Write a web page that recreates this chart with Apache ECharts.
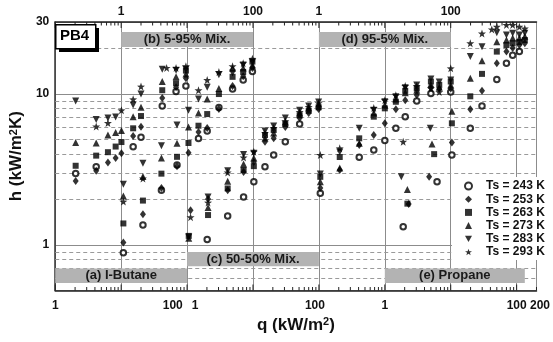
<!DOCTYPE html>
<html><head><meta charset="utf-8">
<script src="https://cdn.jsdelivr.net/npm/echarts@6/dist/echarts.min.js"></script>
<style>html,body{margin:0;padding:0;background:#fff}#c{width:553px;height:342px}</style>
</head><body><div id="c"></div>
<script>
// ---- data: [q (kW/m2), h (kW/m2K)] per panel and surface temperature ----
// (a) I-Butane
const a243 = [[2.04,2.98],[4.18,3.30],[10.8,0.89],[21.4,1.36],[40.8,2.31],[70.4,3.39]];
const a253 = [[2.04,2.66],[4.18,3.10],[6.3,3.52],[8.25,3.77],[10.1,4.05],[10.8,1.04],[21.4,1.60],[40.8,2.39],[70.4,3.33],[105,4.08]];
const a263 = [[2.04,3.35],[4.18,3.91],[6.3,4.12],[8.25,4.49],[10.1,4.81],[10.8,1.39],[21.4,1.97],[40.8,2.97],[70.4,3.84],[105,4.74]];
const a273 = [[2.04,4.77],[4.18,4.74],[6.3,5.35],[8.25,5.56],[10.1,5.73],[10.8,2.11],[21.4,2.84],[40.8,3.77],[70.4,4.72],[105,6.05]];
const a283 = [[2.04,9.0],[4.18,6.78],[6.3,6.93],[8.25,7.05],[10.8,2.53],[21.4,3.48],[40.8,4.55],[70.4,6.23],[105,7.8]];
const a293 = [[4.18,6.09],[6.3,6.43],[10.1,7.8],[10.8,1.94],[21.4,2.76]];
// (b) 5-95% Mix.
const b243 = [[1.52,4.48],[2.0,5.17],[4.2,8.33],[6.8,10.4],[9.6,11.3],[14.9,5.07],[20.2,5.7],[30.4,8.14],[49,10.8],[71,12.4],[98,14.1]];
const b253 = [[1.52,5.27],[2.0,6.07],[4.2,9.41],[6.8,11.1],[9.6,12.7],[14.9,5.6],[20.2,5.95],[30.4,7.96],[49,11.3],[71,13.1],[98,14.9]];
const b263 = [[1.52,5.93],[2.0,7.15],[4.2,10.6],[6.8,11.8],[9.6,14.3],[14.9,6.17],[20.2,7.37],[30.4,10.0],[49,13.0],[71,14.0],[98,16.4]];
const b273 = [[1.52,7.08],[2.0,8.17],[4.2,12.1],[6.8,13.0],[9.6,13.6],[14.9,7.5],[20.2,9.27],[30.4,10.9],[49,14.8],[71,14.9],[98,15.6]];
const b283 = [[1.52,8.45],[2.0,10.0],[4.2,14.6],[6.8,14.4],[9.6,14.6],[14.9,9.27],[20.2,11.1],[30.4,13.4],[49,13.8],[71,15.6],[98,16.3]];
const b293 = [[1.52,9.22],[2.0,11.2],[4.9,14.9],[6.8,14.9],[9.6,15.3],[14.9,10.6],[20.2,12.4],[30.4,14.0],[49,15.3],[71,16.0],[98,17.1]];
// (c) 50-50% Mix.
const c243 = [[2.02,1.09],[4.13,1.56],[7.2,2.08],[10.3,2.63],[15.2,3.30],[20.6,3.95],[30.9,4.83],[51,6.33]];
const c253 = [[1.13,1.70],[2.08,2.02],[4.13,2.31],[7.2,3.05],[10.3,3.55],[15.2,4.83],[20.6,5.09],[30.9,6.05],[51,6.93],[70,7.5],[99,7.96]];
const c263 = [[1.06,1.15],[2.08,1.58],[4.13,2.37],[7.2,3.14],[10.3,3.33],[15.2,5.35],[20.6,5.78],[30.9,6.33],[51,7.24],[70,7.75],[99,8.17]];
const c273 = [[1.06,1.11],[2.08,1.77],[4.13,2.65],[7.2,3.44],[10.3,3.77],[15.2,5.11],[20.6,5.53],[30.9,6.52],[51,7.5],[70,8.07],[99,8.6]];
const c283 = [[1.06,1.13],[2.08,2.08],[4.13,3.11],[7.2,3.98],[10.3,4.06],[15.2,5.69],[20.6,6.14],[30.9,6.93],[51,7.8],[70,8.33],[99,8.85]];
const c293 = [[1.13,1.53],[2.08,1.91],[4.13,3.02],[7.2,3.8],[10.3,4.15],[15.2,5.53],[20.6,5.95],[30.9,6.62],[51,7.6],[70,8.2],[99,8.7]];
// (d) 95-5% Mix.
const d243 = [[1.05,2.2],[4.09,3.81],[6.8,4.26],[10.0,4.92],[14.7,5.93],[20.4,7.08],[30.5,9.0],[50,10.1],[100,10.3]];
const d253 = [[1.05,2.39],[2.07,3.14],[4.09,4.6],[6.8,5.35],[10.0,6.4],[14.7,7.92],[20.4,9.1],[30.5,9.85],[50,11.0],[67,10.8],[100,10.9]];
const d263 = [[1.05,2.83],[2.07,3.83],[4.09,5.09],[6.8,7.08],[10.0,8.04],[14.7,8.89],[20.4,10.5],[30.5,10.9],[50,12.1],[67,11.5],[100,12.1]];
const d273 = [[1.05,2.63],[2.07,3.24],[4.09,4.72],[6.8,7.5],[10.0,8.45],[14.7,9.27],[20.4,10.2],[30.5,10.6],[50,11.6],[67,11.1],[100,11.5]];
const d283 = [[1.05,2.95],[2.07,4.13],[4.09,5.93],[6.8,7.8],[10.0,8.89],[14.7,9.6],[20.4,11.0],[30.5,11.5],[50,12.6],[67,12.0],[100,12.4]];
const d293 = [[1.05,3.95],[2.07,4.37],[6.8,8.07],[10.0,9.1],[14.7,9.8],[20.4,11.3],[30.5,11.3],[50,10.9],[67,10.3],[100,14.8]];
// (e) Propane
const e243 = [[1.9,1.32],[6.2,2.63],[10.4,3.95],[19.8,5.93],[29.8,8.33],[50,12.5],[70,16.0],[87,18.1],[110,19.1]];
const e253 = [[2.3,1.87],[4.7,2.83],[10.4,4.77],[19.8,7.92],[29.8,10.5],[50,16.0],[70,19.1],[87,20.2],[110,21.1],[133,21.7]];
const e263 = [[2.2,1.88],[5.6,4.0],[10.4,6.4],[19.8,9.66],[29.8,13.6],[50,19.1],[70,21.1],[87,21.7],[110,22.1],[133,22.8]];
const e273 = [[2.2,2.33],[5.2,4.67],[10.4,7.7],[19.8,12.7],[29.8,16.6],[50,22.2],[70,22.8],[87,23.5],[110,23.5],[133,24.1]];
const e283 = [[1.78,2.83],[4.9,5.93],[19.8,17.7],[29.8,20.6],[50,25.5],[70,24.6],[87,25.3],[110,24.6],[133,25.3]];
const e293 = [[1.9,4.83],[19.8,21.7],[29.8,25.2],[42,26.8],[50,27.9],[70,28.7],[87,28.7],[110,27.9],[133,27.2]];

const seriesNames = ['Ts = 243 K','Ts = 253 K','Ts = 263 K','Ts = 273 K','Ts = 283 K','Ts = 293 K'];
const dashedLevels = [0.6,0.7,0.8,0.9,2,3,4,5,6,7,8,9,20];
const boxLabels = ['(a) I-Butane','(b) 5-95% Mix.','(c) 50-50% Mix.','(d) 95-5% Mix.','(e) Propane'];
const boxPanels = ['a','b','c','d','e'];
const boxQ = [[1,100],[1,100],[1,100],[1,100],[1,133]];
const boxH = [[0.56,0.70],[20.5,25.8],[0.725,0.9],[20.5,25.8],[0.56,0.70]];

// each panel's q axis is shifted by whole decades on the shared log axis
const PANEL_SHIFT = {a:1, b:10, c:100, d:1e4, e:1e5};
const shift = (arr, p) => arr.map(([q,h]) => [q*PANEL_SHIFT[p], h]);
const byTemp = [
  [a243,b243,c243,d243,e243],[a253,b253,c253,d253,e253],[a263,b263,c263,d263,e263],
  [a273,b273,c273,d273,e273],[a283,b283,c283,d283,e283],[a293,b293,c293,d293,e293]
];
const panelKeys = ['a','b','c','d','e'];
const STAR = 'path://M0,-10L2.35,-3.24L9.51,-3.09L3.8,1.24L5.88,8.09L0,4L-5.88,8.09L-3.8,1.24L-9.51,-3.09L-2.35,-3.24Z';
const TRI_DOWN = 'path://M0,0L10,0L5,9Z';
const symbols = ['emptyCircle','diamond','rect','triangle',TRI_DOWN,STAR];
const sizes = [5.5,[6,8],6,7,7,8];

const XMAX = 2e7, YMIN = 0.5, YMAX = 30;
const tickVals = [];
for (let k=0;k<=7;k++) for (let m=1;m<=9;m++){ const v=m*Math.pow(10,k); if (v<=XMAX*1.0001) tickVals.push([v, m===1?1:0]); }

const FONT = '"Liberation Sans", Arial, sans-serif';
const lg = v => Math.round(Math.log10(v)*100)/100;
const lblRich = pad => ({fontSize:12, fontWeight:'bold', color:'#111', fontFamily:FONT, padding:pad});

const series = seriesNames.map((name,i)=>({
  name, type:'scatter', z:5,
  symbol: symbols[i], symbolSize: sizes[i],
  itemStyle: i===0 ? {color:'#000', borderColor:'#000', borderWidth:1.6} : {color:'#000'},
  data: byTemp[i].reduce((acc,arr,j)=>acc.concat(shift(arr,panelKeys[j])), [])
}));

series.push({
  name:'grid', type:'scatter', data:[], z:1, silent:true,
  markLine:{ silent:true, z:1, symbol:'none', label:{show:false}, animation:false,
    lineStyle:{type:[4,3], color:'#9a9a9a', width:1},
    data: dashedLevels.map(v=>({yAxis:v})) }
});
series.push({
  name:'boxes', type:'scatter', data:[], z:2, silent:true,
  markArea:{ silent:true, z:2, animation:false,
    itemStyle:{color:'#b3b3b3', opacity:1},
    label:{show:true, position:'inside', color:'#1a1a1a', fontWeight:'bold', fontSize:13, fontFamily:FONT},
    data: boxLabels.map((nm,i)=>[
      {name:nm, xAxis:boxQ[i][0]*PANEL_SHIFT[boxPanels[i]], yAxis:boxH[i][0]},
      {xAxis:boxQ[i][1]*PANEL_SHIFT[boxPanels[i]], yAxis:boxH[i][1]}
    ]) }
});
series.push({
  name:'ticks', type:'custom', z:6, silent:true, data: tickVals,
  encode:{x:0},
  renderItem:(params, api)=>{
    const v = api.value(0), major = api.value(1)===1;
    const b = api.coord([v, YMIN]), t = api.coord([v, YMAX]);
    const len = major ? 6 : 3.5;
    const ch = [{type:'line', shape:{x1:b[0],y1:b[1],x2:b[0],y2:b[1]-len}, style:{stroke:'#222', lineWidth:1}}];
    if (v <= 1.5e7) ch.push({type:'line', shape:{x1:t[0],y1:t[1],x2:t[0],y2:t[1]+len}, style:{stroke:'#222', lineWidth:1}});
    return {type:'group', children:ch};
  }
});

const chart = echarts.init(document.getElementById('c'), null, {renderer:'canvas'});
chart.setOption({
  animation:false,
  backgroundColor:'#fff',
  textStyle:{fontFamily:FONT},
  grid:{left:53, right:6, top:22, bottom:51.5, containLabel:false},
  legend:{
    data: seriesNames, orient:'vertical', left:452, top:177, z:10,
    backgroundColor:'#fff', padding:[3,4,2,12], itemGap:1.2,
    itemWidth:7, itemHeight:7,
    textStyle:{fontWeight:'bold', fontSize:12, lineHeight:12, color:'#111', fontFamily:FONT, padding:[0,0,0,9]}
  },
  xAxis:[{
    type:'log', logBase:10, min:1, max:XMAX, position:'bottom',
    axisLine:{show:true, lineStyle:{color:'#222', width:1.5}},
    axisTick:{show:false},
    splitLine:{show:true, lineStyle:{color:'#8c8c8c', width:1}},
    axisLabel:{ margin:9, fontSize:12, fontWeight:'bold', color:'#111', fontFamily:FONT,
      formatter:v=>{ const e=lg(v);
        if (e===0) return '1';
        if (e===2) return '{l|100}{r|1}';
        if (e===4) return '{m|100}';
        if (e===5) return '1';
        if (e===7) return '100';
        if (e>7.2) return '{t|200}';
        return ''; },
      rich:{ l:lblRich([0,9,0,0]), r:lblRich([0,13,0,0]), m:lblRich([0,8,0,0]), t:lblRich([0,0,0,7]) }
    },
    name:'q (kW/m{s|2})', nameLocation:'middle', nameGap:19,
    nameTextStyle:{fontSize:17, fontWeight:'bold', color:'#111', fontFamily:FONT,
      rich:{s:{fontSize:11, fontWeight:'bold', color:'#111', verticalAlign:'top', fontFamily:FONT}}}
  },{
    type:'log', logBase:10, min:1, max:XMAX, position:'top',
    axisLine:{show:true, lineStyle:{color:'#222', width:1.5}},
    axisTick:{show:false}, splitLine:{show:false},
    axisLabel:{ margin:4, fontSize:12, fontWeight:'bold', color:'#111', fontFamily:FONT,
      formatter:v=>{ const e=lg(v);
        if (e===1||e===4) return '1';
        if (e===3||e===6) return '100';
        return ''; } }
  }],
  yAxis:{
    type:'log', logBase:10, min:YMIN, max:YMAX,
    axisLine:{show:true, lineStyle:{color:'#333', width:1.5}},
    axisTick:{show:false},
    splitLine:{show:true, lineStyle:{color:'#8c8c8c', width:1}},
    axisLabel:{ margin:6, fontSize:12, fontWeight:'bold', color:'#111', fontFamily:FONT,
      formatter:v=>{ const e=lg(v); if (e===0) return '1'; if (e===1) return '10'; if (Math.abs(v-30)<0.5) return '30'; return ''; } },
    name:'h (kW/m{s|2}K)', nameLocation:'middle', nameGap:27, nameRotate:90,
    nameTextStyle:{fontSize:17, fontWeight:'bold', color:'#111', fontFamily:FONT,
      rich:{s:{fontSize:11, fontWeight:'bold', color:'#111', verticalAlign:'top', fontFamily:FONT}}}
  },
  graphic:[
    {type:'rect', left:59, top:28, z:20, shape:{width:40, height:24}, style:{fill:'#000'}},
    {type:'rect', left:55, top:24, z:21, shape:{width:40, height:24}, style:{fill:'#fff', stroke:'#000', lineWidth:1.5}},
    {type:'text', left:60, top:28.5, z:22, style:{text:'PB4', font:'bold 15px '+FONT, fill:'#000'}}
  ],
  series
});
</script>
</body></html>
